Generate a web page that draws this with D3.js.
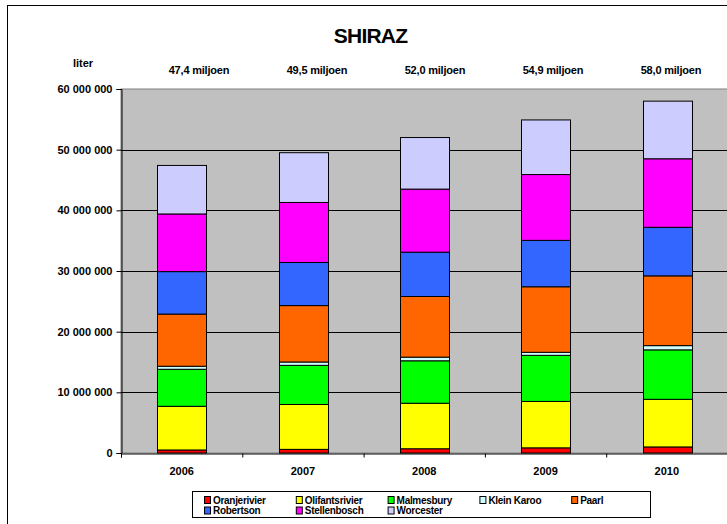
<!DOCTYPE html>
<html>
<head>
<meta charset="utf-8">
<script src="https://cdn.jsdelivr.net/npm/d3@7/dist/d3.min.js"></script>
<style>
    body { margin: 0; background: #fff; }
    svg { display: block; font-family: 'Liberation Sans', Arial, sans-serif; }
</style>
</head>
<body>
<div id="chart"></div>
<script>
// Chart data (liter)
var years = ['2006', '2007', '2008', '2009', '2010'];
var regions = ['Oranjerivier', 'Olifantsrivier', 'Malmesbury', 'Klein Karoo', 'Paarl',
    'Robertson', 'Stellenbosch', 'Worcester'];
var regionColors = ['#FF0000', '#FFFF00', '#00FF00', '#CCFFFF', '#FF6600',
    '#3366FF', '#FF00FF', '#CCCCFF'];

var oranjerivier   = [0.5e6, 0.6e6, 0.7e6, 0.85e6, 1.0e6];
var olifantsrivier = [7.2e6, 7.4e6, 7.5e6, 7.65e6, 7.85e6];
var malmesbury     = [6.1e6, 6.45e6, 7.0e6, 7.6e6, 8.15e6];
var kleinKaroo     = [0.5e6, 0.55e6, 0.6e6, 0.5e6, 0.7e6];
var paarl          = [8.6e6, 9.3e6, 10.0e6, 10.8e6, 11.5e6];
var robertson      = [7.0e6, 7.1e6, 7.3e6, 7.65e6, 8.0e6];
var stellenbosch   = [9.5e6, 9.9e6, 10.4e6, 10.85e6, 11.3e6];
var worcester      = [8.0e6, 8.2e6, 8.5e6, 9.0e6, 9.5e6];

var totalLabels = ['47,4 miljoen', '49,5 miljoen', '52,0 miljoen', '54,9 miljoen', '58,0 miljoen'];
var yTicks = [0, 10e6, 20e6, 30e6, 40e6, 50e6, 60e6];

var seriesValues = [oranjerivier, olifantsrivier, malmesbury, kleinKaroo, paarl,
    robertson, stellenbosch, worcester];

// Build table for d3.stack
var table = years.map(function (year, i) {
    var row = { year: year };
    regions.forEach(function (r, k) {
        row[r] = seriesValues[k][i];
    });
    return row;
});

var width = 727;
var height = 524;
var plot = { left: 121, top: 89, right: 727.5, bottom: 453 };

var svg = d3.select('#chart').append('svg')
    .attr('width', width)
    .attr('height', height);

// Outer chart border
svg.append('rect')
    .attr('x', 7.5).attr('y', 5.5)
    .attr('width', 800).attr('height', 600)
    .attr('fill', '#fff')
    .attr('stroke', '#000');

var xScale = d3.scaleBand()
    .domain(years)
    .range([plot.left, plot.right])
    .paddingInner(0.6)
    .paddingOuter(0.3);

var yScale = d3.scaleLinear()
    .domain([0, 60e6])
    .range([plot.bottom, plot.top]);

// Plot area
svg.append('rect')
    .attr('x', plot.left).attr('y', plot.top)
    .attr('width', plot.right - plot.left)
    .attr('height', plot.bottom - plot.top)
    .attr('fill', '#C0C0C0')
    .attr('stroke', '#808080');

// Gridlines
svg.append('g')
    .selectAll('line')
    .data(yTicks.filter(function (t) { return t > 0 && t < 60e6; }))
    .enter().append('line')
    .attr('x1', plot.left).attr('x2', plot.right)
    .attr('y1', function (d) { return Math.round(yScale(d)) + 0.5; })
    .attr('y2', function (d) { return Math.round(yScale(d)) + 0.5; })
    .attr('stroke', '#000');

// Stacked bars
var stack = d3.stack().keys(regions);
var layers = stack(table);

svg.append('g')
    .selectAll('g')
    .data(layers)
    .enter().append('g')
    .attr('fill', function (d, i) { return regionColors[i]; })
    .selectAll('rect')
    .data(function (d) { return d; })
    .enter().append('rect')
    .attr('x', function (d) { return Math.round(xScale(d.data.year)) + 0.5; })
    .attr('width', Math.round(xScale.bandwidth()))
    .attr('y', function (d) { return yScale(d[1]); })
    .attr('height', function (d) { return yScale(d[0]) - yScale(d[1]); })
    .attr('stroke', '#000')
    .attr('stroke-width', 1);

// Y axis
var numFormat = function (d) { return d3.format(',')(d).replace(/,/g, ' '); };
var yAxis = svg.append('g')
    .attr('transform', 'translate(' + (plot.left + 0.5) + ',0)')
    .call(d3.axisLeft(yScale).tickValues(yTicks).tickSize(5).tickPadding(4).tickFormat(numFormat));
yAxis.select('.domain').attr('stroke', '#000');
yAxis.selectAll('text')
    .attr('font-size', 11)
    .attr('font-weight', 'bold')
    .attr('fill', '#000')
    .attr('font-family', 'Liberation Sans, Arial, sans-serif');

// X axis: ticks between categories, labels centred on bars
var idxScale = d3.scaleLinear().domain([0, years.length]).range([plot.left, plot.right]);
var xTickAxis = svg.append('g')
    .attr('transform', 'translate(0,' + (plot.bottom + 0.5) + ')')
    .call(d3.axisBottom(idxScale).tickValues(d3.range(years.length + 1)).tickSize(4).tickFormat(''));
xTickAxis.select('.domain').attr('stroke', '#000');

var xLabelAxis = svg.append('g')
    .attr('transform', 'translate(0,' + plot.bottom + ')')
    .call(d3.axisBottom(xScale).tickSize(0).tickPadding(14));
xLabelAxis.select('.domain').remove();
xLabelAxis.selectAll('text')
    .attr('font-size', 11)
    .attr('font-weight', 'bold')
    .attr('fill', '#000')
    .attr('font-family', 'Liberation Sans, Arial, sans-serif');

// Title
svg.append('text')
    .attr('x', 370.5).attr('y', 43)
    .attr('text-anchor', 'middle')
    .attr('font-size', 21)
    .attr('font-weight', 'bold')
    .attr('letter-spacing', -0.8)
    .text('SHIRAZ');

// Axis unit
svg.append('text')
    .attr('x', 83).attr('y', 67)
    .attr('text-anchor', 'middle')
    .attr('font-size', 11)
    .attr('font-weight', 'bold')
    .text('liter');

// Totals above the plot
var labelScale = d3.scalePoint().domain(years).range([199, 671]);
svg.append('g')
    .selectAll('text')
    .data(years)
    .enter().append('text')
    .attr('x', function (d) { return labelScale(d); })
    .attr('y', 74)
    .attr('text-anchor', 'middle')
    .attr('font-size', 11)
    .attr('font-weight', 'bold')
    .attr('letter-spacing', -0.2)
    .text(function (d, i) { return totalLabels[i]; });

// Legend
var legend = svg.append('g');
legend.append('rect')
    .attr('x', 192.5).attr('y', 491.5)
    .attr('width', 458).attr('height', 26)
    .attr('fill', '#fff')
    .attr('stroke', '#000');

var legendItems = legend.selectAll('g.item')
    .data(regions)
    .enter().append('g')
    .attr('class', 'item')
    .attr('transform', function (d, i) {
        var col = i % 5;
        var row = Math.floor(i / 5);
        return 'translate(' + (204 + col * 91.8) + ',' + (496 + row * 10.5) + ')';
    });

legendItems.append('rect')
    .attr('x', 0.5).attr('y', 0.5)
    .attr('width', 6).attr('height', 7)
    .attr('fill', function (d, i) { return regionColors[i]; })
    .attr('stroke', '#000');

legendItems.append('text')
    .attr('x', 9).attr('y', 7.5)
    .attr('font-size', 10)
    .attr('font-weight', 'bold')
    .attr('letter-spacing', -0.3)
    .text(function (d) { return d; });
</script>
</body>
</html>
